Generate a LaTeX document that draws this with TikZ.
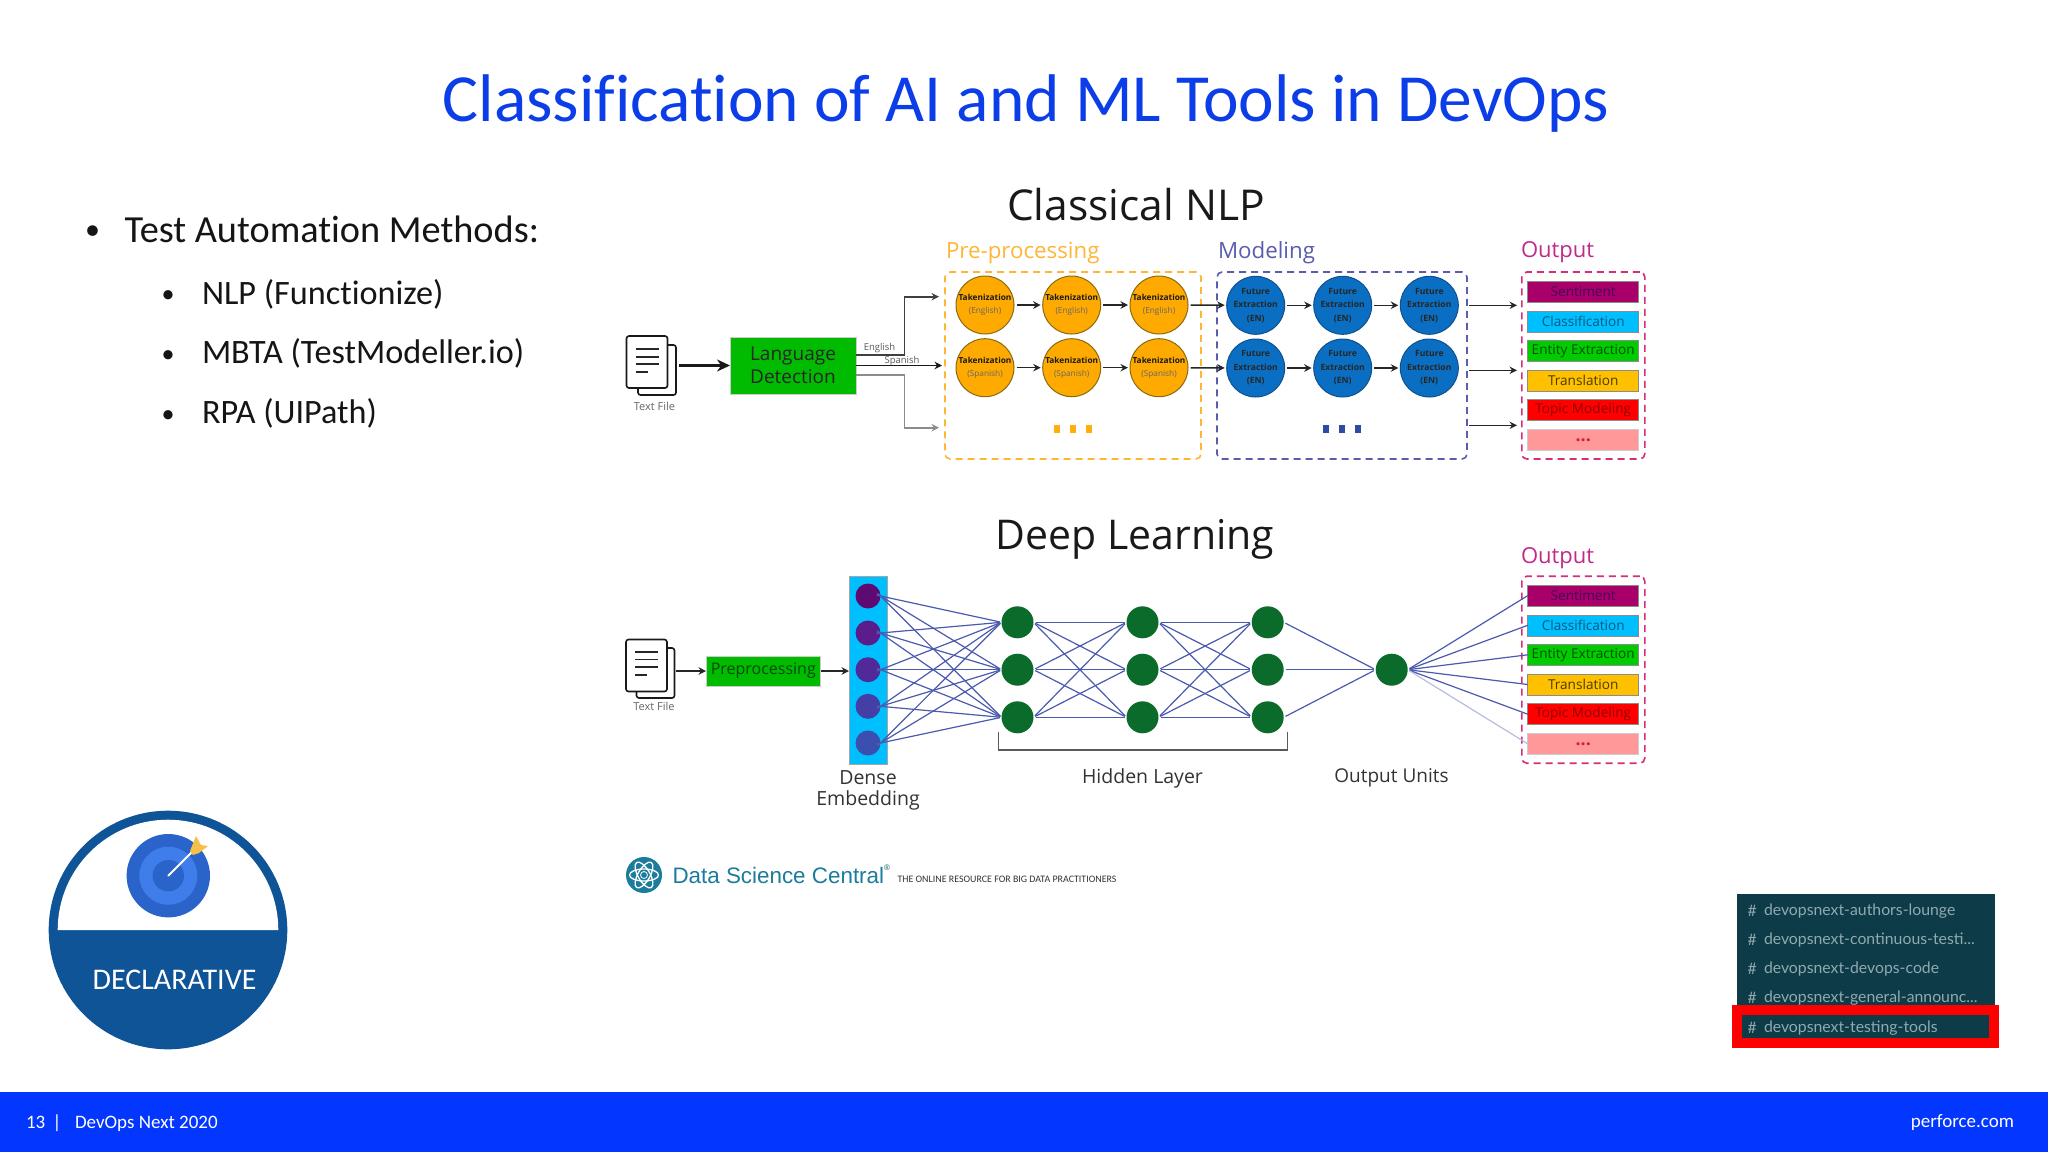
\documentclass[tikz,border=0pt]{standalone}
\usepackage{fontspec}
\setmainfont[Ligatures=NoCommon]{Carlito}
\newfontfamily\dia{Open Sans}
\newfontfamily\slk{Lato}
\newfontfamily\arialf{Liberation Sans}
\usetikzlibrary{arrows.meta,calc}
\newcommand{\fsz}[1]{\fontsize{#1}{#1}\selectfont}
\newcommand{\trd}{...}
\definecolor{slideblue}{HTML}{0336FF}
\definecolor{titleblue}{HTML}{0B3DE8}
\definecolor{bodytxt}{HTML}{151515}
\definecolor{badge}{HTML}{0F5497}
\definecolor{netline}{HTML}{4A5AAE}
\definecolor{hgreen}{HTML}{0B6B2B}
\definecolor{preC}{HTML}{FFB637}
\definecolor{modC}{HTML}{5A5CAE}
\definecolor{outC}{HTML}{D42F78}
\definecolor{outL}{HTML}{C02A88}
\definecolor{slack}{HTML}{0E3B48}
\definecolor{slacktxt}{HTML}{8FAAB0}
\definecolor{dsc}{HTML}{1B7C9C}
\definecolor{tokO}{HTML}{FFAA00}
\definecolor{tokOb}{HTML}{8A6A10}
\definecolor{tokB}{HTML}{0A6FC2}
\definecolor{tokBb}{HTML}{0F508C}
\definecolor{cSent}{HTML}{A80068}
\definecolor{cClas}{HTML}{00BFFF}
\definecolor{cEnt}{HTML}{00CC00}
\definecolor{cTran}{HTML}{FFC000}
\definecolor{cTop}{HTML}{FF0000}
\definecolor{cMore}{HTML}{FF9999}
\definecolor{em1}{HTML}{5E0A72}
\definecolor{em2}{HTML}{5B1D8B}
\definecolor{em3}{HTML}{4F2A98}
\definecolor{em4}{HTML}{443FA5}
\definecolor{em5}{HTML}{3B50AE}
\definecolor{navyd}{HTML}{2D4BA0}
\definecolor{orgd}{HTML}{FFAE10}
\definecolor{lgreen}{HTML}{00BB00}
\definecolor{tgA}{HTML}{2A63C9}
\definecolor{tgB}{HTML}{3F7EEA}
\definecolor{fletch}{HTML}{F5C04A}
\tikzset{
  x=1pt,y=-1pt,
  every node/.style={inner sep=0pt,outer sep=0pt},
  txt/.style={text=#1,align=center},
  bul/.style={text=bodytxt,anchor=base west},
  bdot/.style={text=bodytxt,anchor=center},
  arr/.style={draw=#1,line width=1.5pt,-{Stealth[length=7.5pt,width=7.5pt]}},
  arr/.default={black!85},
  bigarr/.style={draw=#1,line width=2.4pt,-{Stealth[length=13pt,width=12pt]}},
  bigarr/.default={black!90},
  dbox/.style={rectangle,draw=#1,line width=1.6pt,dash pattern=on 7pt off 5pt,rounded corners=5pt},
  tok/.style={circle,minimum size=58pt,align=center},
  tokor/.style={tok,fill=tokO,draw=tokOb,line width=1pt},
  tokbl/.style={tok,fill=tokB,draw=tokBb,line width=1pt},
  outbox/.style={rectangle,minimum width=111pt,minimum height=21pt,fill=#1,draw=black!45,line width=0.6pt},
  page/.style={rectangle,rounded corners=2.5pt,draw=black!90,line width=1.6pt,fill=white},
  doclines/.style={draw=black!85,line width=1.8pt},
  nn/.style={draw=netline,line width=1.2pt},
  hid/.style={circle,minimum size=32pt,fill=hgreen},
  emb/.style={circle,minimum size=25pt,fill=#1},
  dotb/.style={rectangle,minimum width=6pt,minimum height=8pt,fill=#1},
  sl/.style={text=slacktxt,anchor=west},
}
\newcommand{\tke}{\dia\fsz{8.3}\bfseries\textcolor{black!90}{Takenization}\\[1.5pt]\dia\fsz{8.3}\textcolor{black!60}{(English)}}
\newcommand{\tks}{\dia\fsz{8.3}\bfseries\textcolor{black!90}{Takenization}\\[1.5pt]\dia\fsz{8.3}\textcolor{black!60}{(Spanish)}}
\newcommand{\fut}{\dia\fsz{8.6}\bfseries\textcolor{black!85}{Future}\\[1.6pt]\dia\fsz{8.6}\bfseries\textcolor{black!85}{Extraction}\\[1.6pt]\dia\fsz{8.6}\bfseries\textcolor{black!85}{(EN)}}
\newcommand{\outstack}[7]{%
  \node[outbox=cSent] (#1s) at (1583.2,#2) {\dia\fsz{13.6}\textcolor[HTML]{4A0058}{Sentiment}};
  \node[outbox=cClas] (#1c) at (1583.2,#3) {\dia\fsz{13.6}\textcolor[HTML]{08587F}{Classification}};
  \node[outbox=cEnt] (#1e) at (1583.2,#4) {\dia\fsz{13.6}\textcolor[HTML]{004E00}{Entity Extraction}};
  \node[outbox=cTran] (#1t) at (1583.2,#5) {\dia\fsz{13.6}\textcolor[HTML]{4A3C00}{Translation}};
  \node[outbox=cTop] (#1m) at (1583.2,#6) {\dia\fsz{13.6}\textcolor[HTML]{900000}{Topic Modeling}};
  \node[outbox=cMore,draw=black!20] (#1x) at (1583.2,#7) {\dia\fsz{18}\textcolor[HTML]{D0203C}{\textbf{...}}};
}
\begin{document}
\begin{tikzpicture}
\useasboundingbox (0,0) rectangle (2048,1152);
\fill[white] (0,0) rectangle (2048,1152);
% title
\node[txt=titleblue] (title) at (1026,104) {\fsz{67.4}Classification of AI and ML Tools in DevOps};
% bullets
\node[bdot] (b0) at (92.7,233) {\fsz{30}•};
\node[bul] (t0) at (124.5,242.5) {\fsz{38.3}Test Automation Methods:};
\node[bdot] (b1) at (168,297) {\fsz{26}•};
\node[bul] (t1) at (202,304) {\fsz{34.2}NLP (Functionize)};
\node[bdot] (b2) at (168,357) {\fsz{26}•};
\node[bul] (t2) at (202,363.4) {\fsz{34.2}MBTA (TestModeller.io)};
\node[bdot] (b3) at (168,417) {\fsz{26}•};
\node[bul] (t3) at (202,423.4) {\fsz{34.2}RPA (UIPath)};
% Classical NLP
\node[txt=black!90] (cn) at (1136,205) {\dia\fsz{42.5}Classical NLP};
\node[anchor=west,txt=preC] (lpre) at (946,252.5) {\dia\fsz{22.3}Pre-processing};
\node[anchor=west,txt=modC] (lmod) at (1218,252.5) {\dia\fsz{22.3}Modeling};
\node[anchor=west,txt=outL] (lout) at (1521,252.5) {\dia\fsz{22}Output};
% doc icon 1
\node[page,minimum width=38pt,minimum height=50pt] (d1b) at (657,370) {};
\node[page,minimum width=41pt,minimum height=52pt] (d1f) at (647,362) {};
\draw[doclines] (635.5,349) -- (658.5,349) (635.5,356.7) -- (658.5,356.7) (635.5,364.3) -- (658.5,364.3) (635.5,372) -- (648,372);
\node[txt=black!60] (tf1) at (654.5,406) {\dia\fsz{11}Text File};
% language detection
\node[rectangle,minimum width=126pt,minimum height=57pt,fill=lgreen,draw=black!20,line width=.6pt,align=center,text=black!85] (lang) at (793,365.5) {\dia\fsz{19}Language\\[3pt]\dia\fsz{19}Detection};
\coordinate (iconout) at (679,365.5);
\draw[bigarr] (iconout) -- (lang.west);
\coordinate (englishS) at (856,355);
\coordinate (englishE) at (939,296.7);
\coordinate (spanE) at (942,365.5);
\coordinate (otherS) at (856,375);
\coordinate (otherE) at (939,427.7);
\draw[arr=black!75,line width=1.7pt] (englishS) -- (904.5,355) -- (904.5,296.7) -- (englishE);
\draw[arr=black!90,line width=1.7pt] (lang.east) -- (spanE);
\draw[arr=black!45,line width=1.7pt] (otherS) -- (904.5,375) -- (904.5,427.7) -- (otherE);
\node[txt=black!65] (len) at (879.5,348) {\dia\fsz{9.5}English};
\node[txt=black!65] (lsp) at (902,360.7) {\dia\fsz{9.5}Spanish};
% dashed boxes
\node[dbox=preC,minimum width=256pt,minimum height=187pt] (prebox) at (1073,365.5) {};
\node[dbox=modC,minimum width=250pt,minimum height=187pt] (modbox) at (1342,365.5) {};
\node[dbox=outC,minimum width=123pt,minimum height=187pt] (outbox1) at (1583.3,365.5) {};
\foreach \n/\x in {1/985,2/1071.7,3/1159}{
  \node[tokor] (pe\n) at (\x,305) {\tke};
  \node[tokor] (ps\n) at (\x,367.7) {\tks};
}
\foreach \n/\x in {1/1255.7,2/1342.7,3/1429.3}{
  \node[tokbl] (me\n) at (\x,305.3) {\fut};
  \node[tokbl] (ms\n) at (\x,368) {\fut};
}
\foreach \a/\b in {pe1/pe2,pe2/pe3,ps1/ps2,ps2/ps3,pe3/me1,ps3/ms1,me1/me2,me2/me3,ms1/ms2,ms2/ms3}{
  \draw[arr,shorten <=2.5pt,shorten >=2pt] (\a) -- (\b);
}
\foreach \n/\x in {1/1057,2/1073,3/1089}{\node[dotb=orgd] (pd\n) at (\x,429) {};}
\foreach \n/\x in {1/1326,2/1342,3/1358}{\node[dotb=navyd] (md\n) at (\x,429) {};}
\foreach \n/\y in {1/305.3,2/370.3,3/425.3}{
  \coordinate (oas\n) at (1469,\y);
  \coordinate (oae\n) at (1517,\y);
  \draw[arr] (oas\n) -- (oae\n);
}
\outstack{oa}{291.8}{321.3}{351.2}{380.5}{410.2}{439.8}
% Deep Learning
\node[txt=black!90] (dl) at (1135,539) {\dia\fsz{41}Deep Learning};
\node[anchor=west,txt=outL] (lout2) at (1521,558) {\dia\fsz{22}Output};
\node[dbox=outC,minimum width=123pt,minimum height=187pt] (outbox2) at (1583.3,669.7) {};
\node[page,minimum width=38pt,minimum height=50pt] (d2b) at (655.5,673) {};
\node[page,minimum width=41pt,minimum height=52pt] (d2f) at (646.5,665.5) {};
\draw[doclines] (635,652) -- (657.5,652) (635,659.5) -- (657.5,659.5) (635,667) -- (657.5,667) (635,675) -- (647,675);
\node[txt=black!60] (tf2) at (654,706.7) {\dia\fsz{11}Text File};
\node[rectangle,minimum width=114.6pt,minimum height=30pt,fill=lgreen,draw=black!20,line width=.6pt,text=black!60!lgreen] (prep) at (763.3,671) {\dia\fsz{16}\raisebox{-1pt}{Preprocessing}};
\node[rectangle,minimum width=37.7pt,minimum height=188pt,fill=cClas,draw=black!35,line width=.7pt] (dense) at (868,670) {};
\coordinate (d2out) at (676,671);
\coordinate (denseIn) at (849,671);
\draw[arr] (d2out) -- (prep.west);
\draw[arr] (prep.east) -- (denseIn);
\node[emb=em1] (e1) at (868,596) {};
\node[emb=em2] (e2) at (868,633) {};
\node[emb=em3] (e3) at (868,669.7) {};
\node[emb=em4] (e4) at (868,706.3) {};
\node[emb=em5] (e5) at (868,743) {};
\foreach \i/\x in {1/1017.5,2/1142.5,3/1267.7}{
  \node[hid] (h\i a) at (\x,622.3) {};
  \node[hid] (h\i b) at (\x,669.7) {};
  \node[hid] (h\i c) at (\x,717.3) {};
}
\node[hid] (ou) at (1391.7,669.7) {};
\foreach \e in {1,...,5}{\foreach \h in {a,b,c}{
  \draw[nn,shorten <=-4pt,shorten >=1.5pt] (e\e.east) -- (h1\h.west);
}}
\foreach \p in {a,b,c}{\foreach \q in {a,b,c}{
  \draw[nn,shorten <=2pt,shorten >=2pt] (h1\p.east) -- (h2\q.west);
  \draw[nn,shorten <=2pt,shorten >=2pt] (h2\p.east) -- (h3\q.west);
}}
\foreach \p in {a,b,c}{\draw[nn,shorten <=2pt,shorten >=2pt] (h3\p.east) -- (ou.west);}
\outstack{ob}{595.6}{625.3}{654.8}{684.5}{714.2}{743.8}
\foreach \b in {s,c,e,t,m}{\draw[nn,shorten <=2pt] (ou.east) -- (ob\b.west);}
\draw[nn,draw=netline!40,shorten <=2pt] (ou.east) -- (obx.west);
\coordinate (brA) at (998.6,732.3);
\coordinate (brB) at (1287.3,732.3);
\draw[draw=black!65,line width=1.5pt] (brA) -- (998.6,750) -- (1287.3,750) -- (brB);
\node[txt=black!80] (de1) at (868,777.5) {\dia\fsz{19.5}Dense};
\node[txt=black!80] (de2) at (868,800) {\dia\fsz{19.5}Embedding};
\node[txt=black!80] (hl) at (1142.5,778) {\dia\fsz{19.5}Hidden Layer};
\node[txt=black!80] (ouL) at (1391.5,778) {\dia\fsz{19}Output Units};
% Data Science Central
\node[circle,minimum size=36pt,fill=dsc] (logo) at (644,875) {};
\foreach \a in {0,60,120}{\draw[white,line width=1.3pt,rotate around={\a:(logo.center)}] (logo.center) ellipse [x radius=14.5pt,y radius=6pt];}
\node[circle,minimum size=7pt,fill=dsc,draw=white,line width=.8pt] (logoc) at (644,875) {};
\node[anchor=west,txt=dsc] (dsct) at (672.5,875) {\arialf\fsz{22.4}Data Science Central};
\node[txt=dsc!70!black] (dscr) at (887,868) {\arialf\fsz{8}®};
\node[anchor=west,txt=black!80] (dsct2) at (897.5,879) {\fsz{9.95}THE ONLINE RESOURCE FOR BIG DATA PRACTITIONERS};
% badge
\node[circle,minimum size=238.6pt,fill=badge] (bd) at (168,930) {};
\fill[white] (57.7,930) arc[start angle=180,end angle=360,radius=110.3] -- cycle;
\node[circle,minimum size=83.4pt,fill=tgA] (tg1) at (168.3,875.7) {};
\node[circle,minimum size=58pt,fill=tgB] (tg2) at (168.3,875.7) {};
\node[circle,minimum size=31.4pt,fill=tgA] (tg3) at (168.3,875.7) {};
\coordinate (dartT) at (193,851);
\draw[white,line width=2pt,line cap=round] (tg3.center) -- (dartT);
\fill[fletch] (190,851) -- (196,836) -- (201,845) -- (208,846) -- (199,853) -- (193,855) -- cycle;
\node[txt=white] (decl) at (174.5,980) {\fsz{30}DECLARATIVE};
% slack panel
\fill[slack] (1736.7,894) rectangle (1995.3,1012);
\fill[slack] (1742,1010) rectangle (1989,1040);
\draw[red,line width=10pt] (1737,1010.2) rectangle (1994,1042.7);
\foreach \n/\y/\t in {1/911/devopsnext-authors-lounge,2/940.3/devopsnext-continuous-testi\trd,3/969.3/devopsnext-devops-code,4/998/devopsnext-general-announc\trd,5/1027.7/devopsnext-testing-tools}{
  \node[sl] (sh\n) at (1747.5,\y) {\slk\fsz{15.8}\#};
  \node[sl] (st\n) at (1764,\y) {\slk\fsz{15.8}\t};
}
% footer
\fill[slideblue] (0,1092) rectangle (2048,1152);
\node[anchor=base west,txt=white] (f0) at (26,1128) {\fsz{19}13};
\node[anchor=base,txt=white] (f1) at (57,1128) {\fsz{19}|};
\node[anchor=base west,txt=white] (f3) at (75,1128) {\fsz{19}DevOps Next 2020};
\node[anchor=east,txt=white] (f2) at (2014,1122.5) {\fsz{19}perforce.com};
\end{tikzpicture}
\end{document}
